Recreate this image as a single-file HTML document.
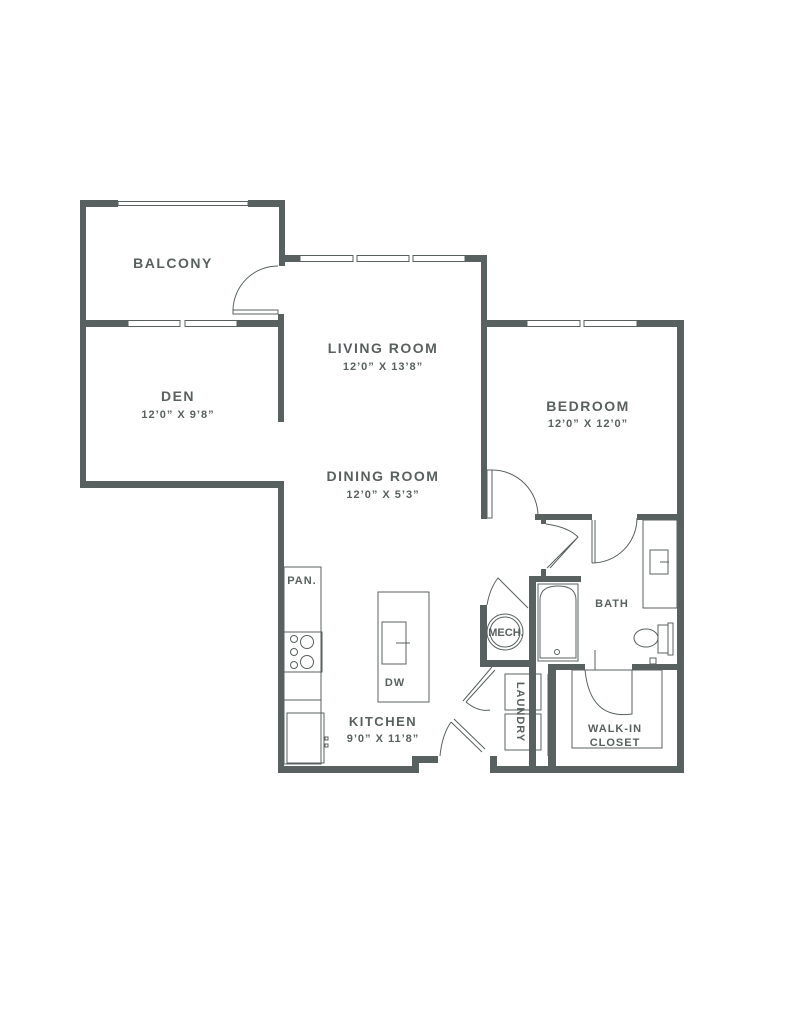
<!DOCTYPE html>
<html><head><meta charset="utf-8"><style>
html,body{margin:0;padding:0;background:#fff;}
svg{display:block}
text{font-family:"Liberation Sans",sans-serif;font-weight:bold;fill:#58615f;text-anchor:middle;letter-spacing:1.5px}
.s{font-size:11px;letter-spacing:1px}
</style></head><body>
<svg width="791" height="1024" viewBox="0 0 791 1024" xmlns="http://www.w3.org/2000/svg">
<g fill="#58615f">
<!-- balcony -->
<rect x="80" y="200" width="6" height="287"/>
<rect x="80" y="200" width="38" height="7"/>
<rect x="248" y="200" width="37" height="7"/>
<rect x="279" y="200" width="6" height="66"/>
<!-- living top -->
<rect x="279" y="255" width="21" height="7"/>
<rect x="465" y="255" width="22" height="7"/>
<rect x="481" y="255" width="6" height="264"/>
<!-- den top -->
<rect x="80" y="320" width="48" height="7"/>
<rect x="237" y="320" width="47" height="7"/>
<rect x="278" y="314" width="6" height="108"/>
<!-- den bottom + kitchen left -->
<rect x="80" y="481" width="204" height="7"/>
<rect x="278" y="481" width="6" height="291"/>
<!-- kitchen bottom -->
<rect x="278" y="766" width="136" height="7"/>
<rect x="412" y="756" width="7" height="17"/>
<rect x="412" y="756" width="26" height="7"/>
<rect x="490" y="756" width="7" height="17"/>
<rect x="490" y="766" width="192" height="7"/>
<!-- bedroom -->
<rect x="485" y="320" width="42" height="7"/>
<rect x="637" y="320" width="47" height="7"/>
<rect x="677" y="320" width="7" height="453"/>
<rect x="535" y="514" width="57" height="6"/>
<rect x="637" y="514" width="47" height="6"/>
<rect x="541" y="514" width="5" height="10"/>
<rect x="541" y="569" width="5" height="10"/>
<!-- tub / mech walls -->
<rect x="529" y="576" width="7" height="197"/>
<rect x="529" y="576" width="52" height="6"/>
<rect x="480" y="605" width="7" height="62"/>
<rect x="480" y="660" width="56" height="7"/>
<rect x="548" y="664" width="8" height="109"/>
<rect x="548" y="664" width="37" height="6"/>
<rect x="632" y="664" width="52" height="6"/>
</g>
<g fill="none" stroke="#58615f" stroke-width="1">
<!-- windows -->
<rect x="118" y="201.5" width="130" height="4"/>
<rect x="300" y="255.5" width="53" height="6"/><rect x="357" y="255.5" width="52" height="6"/><rect x="413" y="255.5" width="52" height="6"/>
<rect x="128" y="320.5" width="52" height="6"/><rect x="185" y="320.5" width="52" height="6"/>
<rect x="527" y="320.5" width="53" height="6"/><rect x="584" y="320.5" width="53" height="6"/>
<!-- balcony door -->
<rect x="233" y="310" width="45" height="4"/>
<path d="M233 310 A45 45 0 0 1 278 266"/>
<!-- bedroom door -->
<rect x="487" y="470" width="5" height="48"/>
<path d="M492 470 A46 46 0 0 1 538 516"/>
<!-- bath entry door -->
<path d="M546 524 Q568 527 578 537 L547 568 M578 537 L550 568"/>
<!-- bath door -->
<line x1="592" y1="520" x2="592" y2="563"/><line x1="595" y1="520" x2="595" y2="563"/>
<path d="M592 563 A45 45 0 0 0 637 518"/>
<!-- vanity -->
<rect x="643" y="520" width="34" height="88"/>
<rect x="650" y="550" width="18" height="24"/>
<line x1="660" y1="562" x2="669" y2="562"/>
<!-- toilet -->
<ellipse cx="646" cy="638" rx="12" ry="9"/>
<rect x="658" y="625" width="10" height="28"/>
<rect x="668" y="623" width="5" height="32"/>
<rect x="650" y="658" width="6" height="6"/>
<!-- tub -->
<rect x="538" y="584" width="40" height="77"/>
<path d="M540 658 L540 600 Q540 586 558 586 Q576 586 576 600 L576 658 Z"/>
<circle cx="557" cy="652" r="2.5"/>
<!-- mech -->
<circle cx="505" cy="632" r="18"/><circle cx="505" cy="632" r="15"/>
<path d="M487 605 Q490 588 498 578 L528 608 M498 578 L526 606"/>
<!-- kitchen -->
<rect x="284" y="567" width="37" height="197"/>
<rect x="284" y="632" width="38" height="40"/>
<circle cx="294" cy="639" r="3.5"/><circle cx="294" cy="652" r="3.5"/><circle cx="294" cy="665" r="3.5"/>
<circle cx="307" cy="642" r="6.5"/><circle cx="307" cy="662" r="6.5"/>
<line x1="284" y1="700" x2="321" y2="700"/>
<rect x="287" y="713" width="37" height="50"/>
<rect x="325" y="737" width="3" height="3"/><rect x="325" y="744" width="3" height="3"/>
<rect x="378" y="592" width="51" height="110"/>
<rect x="382" y="622" width="24" height="42"/>
<line x1="396" y1="643" x2="410" y2="643"/>
<!-- kitchen doors -->
<path d="M492 667 L463 701 M495 670 L466 702"/>
<path d="M466 702 Q478 712 490 710"/>
<path d="M451 722 L482 752 M454 719 L485 749"/>
<path d="M440 756 Q442 735 451 722"/>
<!-- laundry -->
<rect x="505" y="674" width="36" height="36"/><rect x="505" y="714" width="36" height="36"/>
<line x1="548" y1="674" x2="548" y2="756"/>
<!-- closet -->
<rect x="572" y="670" width="90" height="78"/>
<line x1="595" y1="670" x2="595" y2="650"/>
<path d="M585 670 Q590 720 632 714 L632 670"/>
</g>
<text x="173" y="268" font-size="14">BALCONY</text>
<text x="383" y="353" font-size="14">LIVING ROOM</text>
<text x="383" y="370" class="s">12’0” X 13’8”</text>
<text x="178" y="401" font-size="14">DEN</text>
<text x="178" y="418" class="s">12’0” X 9’8”</text>
<text x="383" y="481" font-size="14">DINING ROOM</text>
<text x="383" y="498" class="s">12’0” X 5’3”</text>
<text x="588" y="411" font-size="14">BEDROOM</text>
<text x="588" y="427" class="s">12’0” X 12’0”</text>
<text x="302" y="584" class="s">PAN.</text>
<text x="612" y="607" class="s">BATH</text>
<text x="506" y="636" class="s" style="letter-spacing:0">MECH.</text>
<text x="395" y="686" class="s">DW</text>
<text x="383" y="726" font-size="13">KITCHEN</text>
<text x="383" y="742" class="s">9’0” X 11’8”</text>
<text x="615" y="732" class="s">WALK-IN</text>
<text x="615" y="746" class="s">CLOSET</text>
<text x="0" y="0" class="s" transform="translate(517 712) rotate(90)">LAUNDRY</text>
</svg>
</body></html>
